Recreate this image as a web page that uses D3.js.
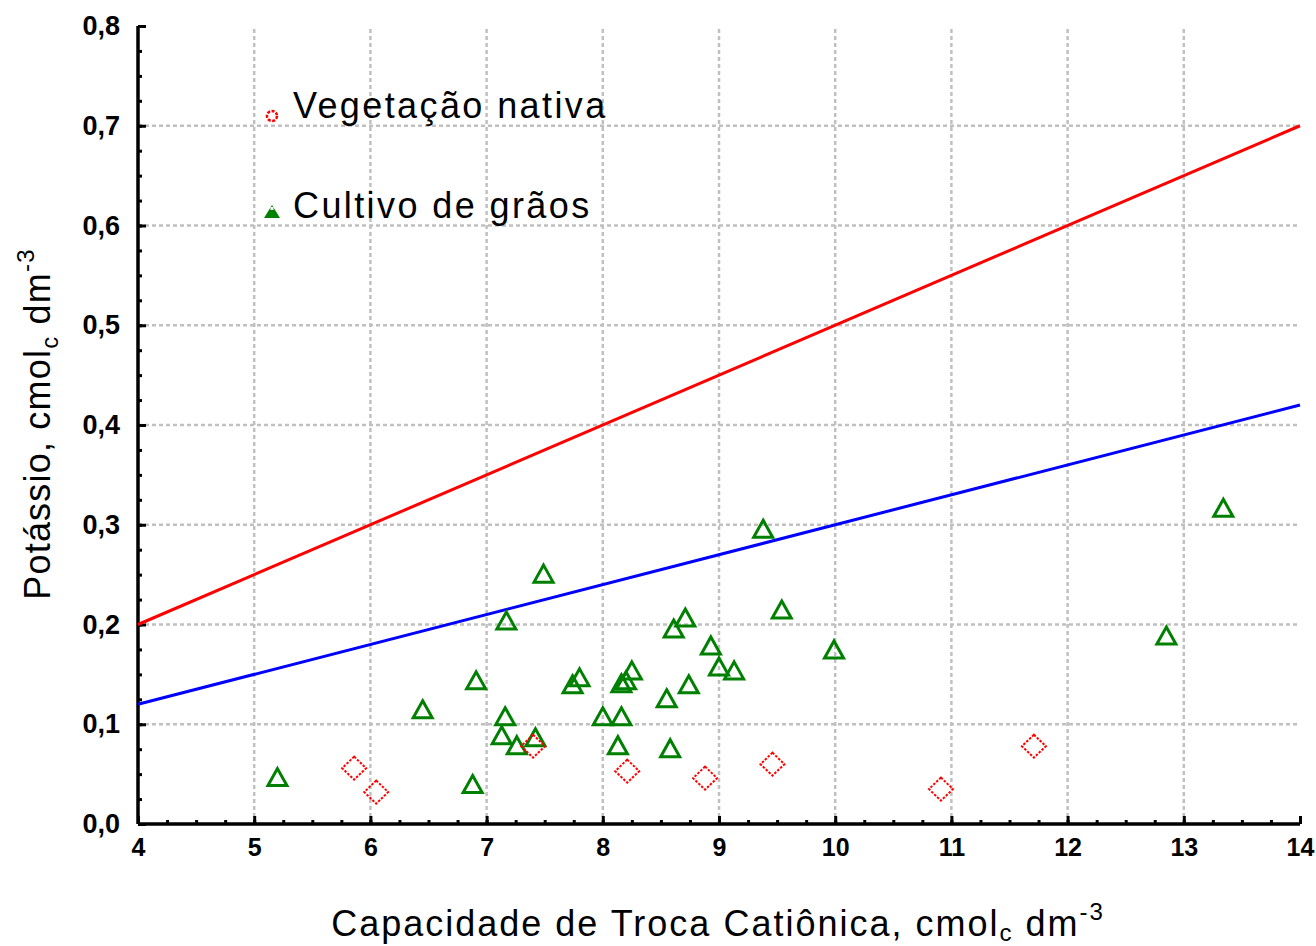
<!DOCTYPE html>
<html><head><meta charset="utf-8">
<script src="https://cdn.jsdelivr.net/npm/d3@7"></script>
<style>html,body{margin:0;padding:0;background:#fff;}svg{display:block;}</style>
</head><body>
<svg id="chart" width="1316" height="946"></svg>
<script>
// ---- data ----
const nativaX = [5.86, 6.05, 7.40, 8.21, 8.88, 9.46, 10.91, 11.71];
const nativaY = [0.056, 0.032, 0.078, 0.053, 0.046, 0.060, 0.035, 0.078];
const cultivoX = [5.20, 6.45, 6.91, 6.88, 7.17, 7.16, 7.13, 7.26, 7.42, 7.49, 7.74, 7.80, 8.00, 8.16, 8.13, 8.16,
                  8.20, 8.25, 8.55, 8.58, 8.61, 8.71, 8.74, 8.93, 9.00, 9.13, 9.38, 9.54, 9.99, 12.85, 13.34];
const cultivoY = [0.047, 0.115, 0.144, 0.040, 0.204, 0.108, 0.089, 0.079, 0.087, 0.251, 0.140, 0.147, 0.108, 0.108, 0.079, 0.141,
                  0.144, 0.154, 0.126, 0.076, 0.196, 0.207, 0.140, 0.179, 0.158, 0.154, 0.296, 0.215, 0.175, 0.189, 0.317];
const redLineX = [4, 14];
const redLineY = [0.20, 0.70];
const blueLineX = [4, 14];
const blueLineY = [0.12, 0.42];
const xTickValues = [4, 5, 6, 7, 8, 9, 10, 11, 12, 13, 14];
const yTickValues = [0, 0.1, 0.2, 0.3, 0.4, 0.5, 0.6, 0.7, 0.8];
const yTickLabels = ["0,0", "0,1", "0,2", "0,3", "0,4", "0,5", "0,6", "0,7", "0,8"];
const legendLabels = ["Vegetação nativa", "Cultivo de grãos"];

// ---- layout ----
const svg = d3.select("#chart");
const L = 138, R = 1300, T = 26, B = 824;
const x = d3.scaleLinear().domain([4, 14]).range([L, R]);
const y = d3.scaleLinear().domain([0, 0.8]).range([B, T]);
const FONT = "'Liberation Sans', Arial, sans-serif";

svg.append("rect").attr("width", 1316).attr("height", 946).attr("fill", "#fff");

// grid
const grid = svg.append("g").attr("stroke", "#c0c0c0").attr("stroke-width", 2.5).attr("stroke-dasharray", "4,3");
grid.selectAll("line.v").data(xTickValues.filter(d => d > 4 && d < 14)).join("line")
  .attr("x1", d => x(d)).attr("x2", d => x(d)).attr("y1", B).attr("y2", T);
grid.selectAll("line.h").data(yTickValues.filter(d => d > 0 && d < 0.8)).join("line")
  .attr("class", "h")
  .attr("x1", L).attr("x2", R).attr("y1", d => y(d)).attr("y2", d => y(d));

// axes
const xMinor = d3.range(4, 14.001, 0.25);
const yMinor = d3.range(0, 0.8001, 0.025);
const xAxis = d3.axisBottom(x).tickValues(xMinor).tickSize(-4).tickFormat("");
const xAxisMajor = d3.axisBottom(x).tickValues(xTickValues).tickSize(-8).tickFormat(d => d).tickPadding(14);
const yAxis = d3.axisLeft(y).tickValues(yMinor).tickSize(-4).tickFormat("");
const yAxisMajor = d3.axisLeft(y).tickValues(yTickValues).tickSize(-8).tickFormat((d, i) => yTickLabels[i]).tickPadding(18);

function styleAxis(g) {
  g.select(".domain").attr("stroke", "#000").attr("stroke-width", 3.5);
  g.selectAll(".tick line").attr("stroke", "#000").attr("stroke-width", 3);
}
const gx1 = svg.append("g").attr("transform", `translate(0,${B})`).call(xAxis);
const gx2 = svg.append("g").attr("transform", `translate(0,${B})`).call(xAxisMajor);
[gx1, gx2].forEach(styleAxis);
gx1.select(".domain").remove();
gx2.select(".domain").attr("d", `M${L},0H${R}`);
gx2.selectAll(".tick text").attr("font-family", FONT).attr("font-size", 25).attr("font-weight", "bold").attr("fill", "#000");

const gy1 = svg.append("g").attr("transform", `translate(${L},0)`).call(yAxis);
const gy2 = svg.append("g").attr("transform", `translate(${L},0)`).call(yAxisMajor);
[gy1, gy2].forEach(styleAxis);
gy1.select(".domain").remove();
gy2.select(".domain").attr("d", `M0,${T}V${B}`);
gy2.selectAll(".tick text").attr("font-family", FONT).attr("font-size", 27).attr("font-weight", "bold").attr("fill", "#000");

// regression lines
const line = d3.line().x(d => x(d[0])).y(d => y(d[1]));
svg.append("path").datum(redLineX.map((v, i) => [v, redLineY[i]]))
  .attr("d", line).attr("stroke", "#ff0000").attr("stroke-width", 3).attr("fill", "none");
svg.append("path").datum(blueLineX.map((v, i) => [v, blueLineY[i]]))
  .attr("d", line).attr("stroke", "#0000ff").attr("stroke-width", 3).attr("fill", "none");

// points
const tri = "M0,-8.5L9.5,8.5L-9.5,8.5Z";
svg.append("g").selectAll("path").data(cultivoX.map((v, i) => [v, cultivoY[i]])).join("path")
  .attr("transform", d => `translate(${x(d[0])},${y(d[1])})`)
  .attr("d", tri).attr("fill", "none").attr("stroke", "#008000").attr("stroke-width", 3);
const dia = "M0,-11.5L12,0L0,11.5L-12,0Z";
svg.append("g").selectAll("path").data(nativaX.map((v, i) => [v, nativaY[i]])).join("path")
  .attr("transform", d => `translate(${x(d[0])},${y(d[1])})`)
  .attr("d", dia).attr("fill", "none").attr("stroke", "#ff0000").attr("stroke-width", 2).attr("stroke-dasharray", "2.5,1.5");

// legend
const lg = svg.append("g");
lg.append("circle").attr("cx", 272).attr("cy", 116).attr("r", 5).attr("fill", "none")
  .attr("stroke", "#ff0000").attr("stroke-width", 2.5).attr("stroke-dasharray", "3,1.5");
lg.append("path").attr("transform", "translate(272,212)").attr("d", "M0,-7L8,6L-8,6Z").attr("fill", "#008000");
lg.append("rect").attr("x", 270.5).attr("y", 207).attr("width", 3).attr("height", 3).attr("fill", "#fff");
lg.selectAll("text").data(legendLabels).join("text")
  .attr("x", 293).attr("y", (d, i) => i === 0 ? 118 : 218)
  .attr("font-family", FONT).attr("font-size", 36).attr("letter-spacing", 2.4).attr("fill", "#000").text(d => d);

// axis titles
const xt = svg.append("text").attr("x", 718).attr("y", 936).attr("text-anchor", "middle")
  .attr("font-family", FONT).attr("font-size", 36).attr("letter-spacing", 2).attr("fill", "#000");
xt.append("tspan").text("Capacidade de Troca Catiônica, cmol");
xt.append("tspan").attr("font-size", 24).attr("dy", 5).text("c");
xt.append("tspan").attr("dy", -5).text(" dm");
xt.append("tspan").attr("font-size", 24).attr("dy", -16).text("-3");

const yt = svg.append("text").attr("transform", "translate(50,424) rotate(-90)").attr("text-anchor", "middle")
  .attr("font-family", FONT).attr("font-size", 36).attr("letter-spacing", 1.2).attr("fill", "#000");
yt.append("tspan").text("Potássio, cmol");
yt.append("tspan").attr("font-size", 24).attr("dy", 8).text("c");
yt.append("tspan").attr("dy", -8).text(" dm");
yt.append("tspan").attr("font-size", 24).attr("dy", -16).text("-3");
</script>
</body></html>
